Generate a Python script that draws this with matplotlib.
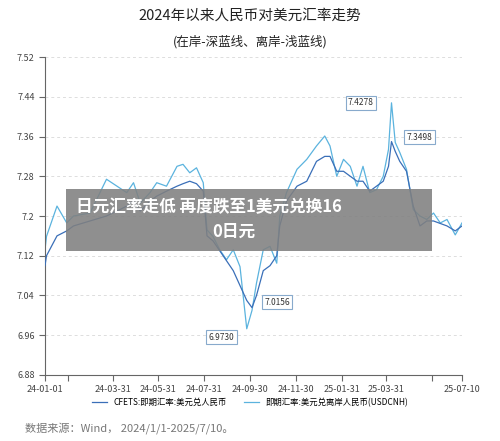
import matplotlib
matplotlib.use("Agg")
import matplotlib.pyplot as plt
import numpy as np
import pandas as pd

plt.rcParams['font.family'] = ['Noto Sans CJK SC', 'DejaVu Sans']

days = [0,2,16,29,38,60,82,96,109,118,127,140,149,162,176,184,193,202,211,216,224,233,242,251,260,269,276,282,291,300,309,313,322,336,349,362,373,380,389,398,407,416,424,433,442,451,458,462,467,473,482,491,500,509,518,527,536,547,556]
offshore = [7.132,7.159,7.22,7.186,7.20,7.206,7.274,7.26,7.247,7.267,7.226,7.247,7.267,7.26,7.30,7.304,7.287,7.297,7.267,7.172,7.159,7.132,7.112,7.132,7.098,6.973,7.01,7.065,7.132,7.139,7.105,7.20,7.247,7.294,7.314,7.341,7.361,7.341,7.28,7.314,7.30,7.26,7.30,7.247,7.253,7.28,7.334,7.4278,7.348,7.328,7.294,7.213,7.20,7.193,7.206,7.186,7.193,7.162,7.186]
onshore = [7.10,7.12,7.16,7.17,7.18,7.19,7.20,7.21,7.22,7.23,7.21,7.23,7.24,7.25,7.26,7.265,7.27,7.265,7.25,7.16,7.15,7.13,7.11,7.09,7.06,7.03,7.0156,7.04,7.09,7.10,7.12,7.18,7.23,7.26,7.27,7.31,7.32,7.32,7.29,7.29,7.28,7.27,7.27,7.25,7.26,7.27,7.30,7.3498,7.33,7.31,7.29,7.22,7.18,7.19,7.19,7.185,7.18,7.17,7.18]
yticks = [6.88,6.96,7.04,7.12,7.2,7.28,7.36,7.44,7.52]
xlabels = ["24-01-01","","24-03-31","24-05-31","24-07-31","24-09-30","24-11-30","25-01-31","25-03-31","","25-07-10"]
xtickdates = ["2024-01-01","2024-01-31","2024-03-31","2024-05-31","2024-07-31","2024-09-30","2024-11-30","2025-01-31","2025-03-31","2025-05-31","2025-07-10"]

dates = pd.Timestamp("2024-01-01") + pd.to_timedelta(days, unit="D")

fig = plt.figure(figsize=(5, 4.41), dpi=100)
ax = fig.add_axes([0.09, 0.1497, 0.834, 0.721])
c_on = "#3a6fb8"
c_off = "#5bb3de"
ax.plot(dates, offshore, color=c_off, lw=0.9, label="即期汇率:美元兑离岸人民币(USDCNH)", zorder=2)
ax.plot(dates, onshore, color=c_on, lw=0.9, label="CFETS:即期汇率:美元兑人民币", zorder=3)
ax.set_ylim(6.88, 7.52)
ax.set_yticks(yticks)
ax.set_yticklabels([f"{v:g}" for v in yticks])
ax.set_xlim(pd.Timestamp("2024-01-01"), pd.Timestamp("2025-07-10"))
ax.set_xticks(pd.to_datetime(xtickdates))
ax.set_xticklabels(xlabels)
ax.tick_params(labelsize=6.5, colors="#444444", length=4, color="#666666")
ax.grid(axis='y', color="#dddddd", ls=(0, (3, 3)), lw=0.7)
for s in ["top", "right"]:
    ax.spines[s].set_visible(False)
for s in ["left", "bottom"]:
    ax.spines[s].set_color("#666666")

def box(txt, d, v, dx, dy):
    ax.annotate(txt, xy=(pd.Timestamp("2024-01-01") + pd.Timedelta(days=d), v), xytext=(dx, dy), textcoords="offset points",
                fontsize=6, color="#333333", ha="center", va="center",
                bbox=dict(boxstyle="square,pad=0.3", fc="white", ec="#88aacc", lw=0.8), zorder=5)
box("7.4278", 462, 7.4278, -22, 0)
box("7.3498", 462, 7.3498, 20, 3)
box("7.0156", 276, 7.0156, 18, 4)
box("6.9730", 269, 6.973, -18, -6)

fig.text(0.5, 0.965, "2024年以来人民币对美元汇率走势", ha="center", va="center", fontsize=10.5, color="#222222")
fig.text(0.5, 0.905, "(在岸-深蓝线、离岸-浅蓝线)", ha="center", va="center", fontsize=9, color="#222222")

fig.patches.append(plt.Rectangle((0.132, 0.431), 0.732, 0.141, transform=fig.transFigure, fc="#808080", alpha=0.88, ec="none", zorder=10))
fig.text(0.152, 0.531, "日元汇率走低 再度跌至1美元兑换16", fontsize=12, fontweight="bold", color="white", va="center", zorder=11)
fig.text(0.425, 0.474, "0日元", fontsize=12, fontweight="bold", color="white", va="center", zorder=11)

h, l = ax.get_legend_handles_labels()
fig.legend(h[::-1], l[::-1], loc="center", bbox_to_anchor=(0.5, 0.088), ncol=2, frameon=False, fontsize=6, handlelength=1.8, columnspacing=2)
fig.text(0.05, 0.03, "数据来源：Wind， 2024/1/1-2025/7/10。", fontsize=8, color="#777777", va="center")
fig.savefig("out.png", dpi=100)
